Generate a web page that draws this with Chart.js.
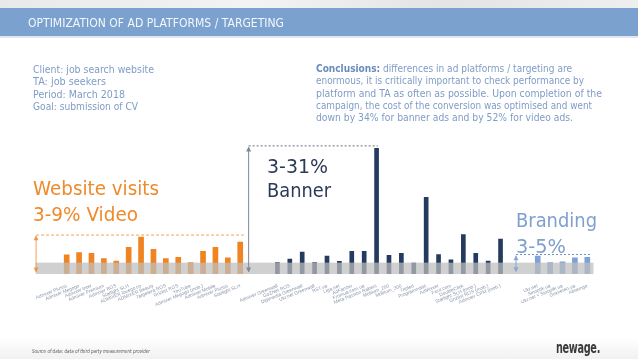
<!DOCTYPE html>
<html><head><meta charset="utf-8">
<script src="https://cdn.jsdelivr.net/npm/chart.js@4/dist/chart.umd.min.js"></script>
<style>
html,body{margin:0;padding:0;background:#fff;}
#wrap{position:relative;width:638px;height:359px;overflow:hidden;background:#fff;font-family:"DejaVu Sans",Verdana,sans-serif;}
#topstrip{position:absolute;left:0;top:0;width:638px;height:8px;background:linear-gradient(90deg,#e9e9e9,#f3f3f3 40%,#e4e4e4 70%,#efefef);}
#band{position:absolute;left:0;top:8px;width:638px;height:28px;background:#7ba1cf;}
#bandline{position:absolute;left:0;top:36px;width:638px;height:2px;background:#dfe6ee;}
#bottom{position:absolute;left:0;top:338px;width:638px;height:21px;background:linear-gradient(180deg,#fff,#f1f1f1);}
canvas{position:absolute;left:0;top:0;}
.t{position:absolute;white-space:nowrap;transform-origin:0 50%;line-height:1;}
</style></head>
<body><div id="wrap">
<div id="topstrip"></div><div id="band"></div><div id="bandline"></div><div id="bottom"></div>
<canvas id="c" width="638" height="359"></canvas>
<div class="t" data-w="256" style="left:28px;top:17px;font-size:12px;color:#f4f7fb;">OPTIMIZATION OF AD PLATFORMS / TARGETING</div>

<div class="t" data-w="121" style="left:33px;top:64px;font-size:10.5px;color:#7f9cc6;">Client: job search website</div>
<div class="t" data-w="73" style="left:33px;top:76px;font-size:10.5px;color:#7f9cc6;">TA: job seekers</div>
<div class="t" data-w="92" style="left:33px;top:88.5px;font-size:10.5px;color:#7f9cc6;">Period: March 2018</div>
<div class="t" data-w="105" style="left:33px;top:100.5px;font-size:10.5px;color:#7f9cc6;">Goal: submission of CV</div>

<div class="t" data-w="256" style="left:316px;top:63px;font-size:10.5px;color:#7f9cc6;"><b style="color:#6a8bbd">Conclusions:</b> differences in ad platforms / targeting are</div>
<div class="t" data-w="268" style="left:316px;top:75px;font-size:10.5px;color:#7f9cc6;">enormous, it is critically important to check performance by</div>
<div class="t" data-w="286" style="left:316px;top:87.5px;font-size:10.5px;color:#7f9cc6;">platform and TA as often as possible. Upon completion of the</div>
<div class="t" data-w="276" style="left:316px;top:99.5px;font-size:10.5px;color:#7f9cc6;">campaign, the cost of the conversion was optimised and went</div>
<div class="t" data-w="257" style="left:316px;top:111.5px;font-size:10.5px;color:#7f9cc6;">down by 34% for banner ads and by 52% for video ads.</div>

<div class="t" data-w="126" style="left:33px;top:178px;font-size:20px;color:#ef8a2a;">Website visits</div>
<div class="t" data-w="105" style="left:33px;top:204px;font-size:20px;color:#ef8a2a;">3-9% Video</div>
<div class="t" data-w="61" style="left:267px;top:156px;font-size:20px;color:#2c3b55;">3-31%</div>
<div class="t" data-w="64" style="left:267px;top:180px;font-size:20px;color:#2c3b55;">Banner</div>
<div class="t" data-w="81" style="left:516px;top:210px;font-size:20px;color:#7f9fcd;">Branding</div>
<div class="t" data-w="50" style="left:516px;top:236px;font-size:20px;color:#7f9fcd;">3-5%</div>

<div class="t" data-w="118" style="left:32px;top:349px;font-size:5.5px;font-style:italic;color:#555;">Source of data: data of third party measurement provider</div>
<div class="t" data-w="44" style="left:556px;top:341px;font-size:15px;font-weight:bold;color:#3a3a3a;letter-spacing:-0.5px;">newage.</div>
</div>
<script>
// ---- data ----
const videoLabels = ["Admixer Plusss","Admixer Megogo","Admixer Inter","Admixer Premium","Admixer ROS","Starlight SLH","ADMIXER lovego.co","ADMIXER Beauty","Targetera ROS","Grizlist ROS","YouTube","Admixer Megogo (mob.)","Admixer Mobile","Admixer Plusss","Starlight SLH"];
const videoValues = [4.7,5.3,5.1,3.8,3.2,6.6,9.1,6.1,3.8,4.1,2.8,5.6,6.6,4.0,7.9];
const bannerLabels = ["Admixer Greenwall","GoZNet ROS","Digimedia Greenwall","Ukr.net Greenwall","RST.ua","Liga.net","AdFarrow","Fromua.com.ua","Meta Passion Rabers","Mobium_200","Mobium_300","Tripled","Programmatic","AdMixxer","Fxcd.com","DoubleClick","Starlight SLH (mob.)","Grizlist ROS (mob.)","Admixer CPM (mob.)"];
const bannerValues = [2.8,3.7,5.4,2.8,4.4,3.1,5.6,5.6,31.0,4.6,5.1,2.7,18.9,4.8,3.5,9.7,5.1,3.2,8.6];
const brandingLabels = ["Ukr.net","Sinoptik.ua","Ukr.net + Sinoptik.ua","Gismeteo.ua","Allsemgo"];
const brandingValues = [4.4,2.8,3.0,4.0,4.1];
const bandLevel = 2.8;          // grey threshold band
const videoLine = 9.6;          // dashed range lines
const bannerLine = 31.6;
const brandingLine = 4.8;
const yMax = 33;

// ---- build categories (2 blank slots before / between groups) ----
const gap = ["",""];
const categories = [...gap, ...videoLabels, ...gap, ...bannerLabels, ...gap, ...brandingLabels];
const nul = n => Array(n).fill(null);
const videoData = [...nul(2), ...videoValues, ...nul(2+bannerValues.length+2+brandingValues.length)];
const bannerData = [...nul(2+videoValues.length+2), ...bannerValues, ...nul(2+brandingValues.length)];
const brandingData = [...nul(2+videoValues.length+2+bannerValues.length+2), ...brandingValues];
const iVideoEnd = 2+videoValues.length-1;
const iBannerStart = iVideoEnd+3;
const iBannerMax = iBannerStart + bannerValues.indexOf(Math.max(...bannerValues));
const iBrandStart = iBannerStart + bannerValues.length + 2;
const iLast = categories.length-1;

function arrow(ctx,x,y1,y2,color){
  ctx.save();ctx.strokeStyle=color;ctx.fillStyle=color;ctx.lineWidth=1;ctx.setLineDash([]);
  ctx.beginPath();ctx.moveTo(x,y1);ctx.lineTo(x,y2);ctx.stroke();
  ctx.beginPath();ctx.moveTo(x,y2-1);ctx.lineTo(x-2.5,y2+4);ctx.lineTo(x+2.5,y2+4);ctx.closePath();ctx.fill();
  ctx.beginPath();ctx.moveTo(x,y1+1);ctx.lineTo(x-2.5,y1-4);ctx.lineTo(x+2.5,y1-4);ctx.closePath();ctx.fill();
  ctx.restore();
}
function dashed(ctx,x1,x2,y,color,dash){
  ctx.save();ctx.strokeStyle=color;ctx.lineWidth=1;ctx.setLineDash(dash);
  ctx.beginPath();ctx.moveTo(x1,y);ctx.lineTo(x2,y);ctx.stroke();ctx.restore();
}
const overlay = {
  id:'overlay',
  afterDatasetsDraw(chart){
    const {ctx, chartArea:a, scales:{x,y}} = chart;
    const top = y.getPixelForValue(bandLevel);
    ctx.save();
    ctx.fillStyle='rgba(190,190,190,0.72)';
    ctx.fillRect(a.left, top, a.right-a.left, a.bottom-top);
    ctx.restore();
    // video
    const vx = x.getPixelForValue(-0.47);
    dashed(ctx, vx, x.getPixelForValue(iVideoEnd+0.3), y.getPixelForValue(videoLine), '#f2a45a', [3,2]);
    arrow(ctx, vx, y.getPixelForValue(0.6), y.getPixelForValue(videoLine-0.3), 'rgba(239,138,42,0.8)');
    // banner
    const bx = x.getPixelForValue(iVideoEnd+0.68);
    dashed(ctx, bx, x.getPixelForValue(iBannerMax+0.1), y.getPixelForValue(bannerLine), '#6b7280', [2,2]);
    arrow(ctx, bx, y.getPixelForValue(0.6), y.getPixelForValue(bannerLine-0.4), '#7d889b');
    // branding
    const rx = x.getPixelForValue(iBrandStart-1.75);
    dashed(ctx, rx, x.getPixelForValue(iLast+0.22), y.getPixelForValue(brandingLine), '#6f8fc2', [2,2]);
    arrow(ctx, rx, y.getPixelForValue(0.7), y.getPixelForValue(brandingLine-0.45), '#8aa6d3');
  }
};

new Chart(document.getElementById('c'), {
  type:'bar',
  data:{labels:categories, datasets:[
    {data:videoData, backgroundColor:'#ef8420', barThickness:5, grouped:false},
    {data:bannerData, backgroundColor:'#243a5e', barThickness:4, grouped:false},
    {data:brandingData, backgroundColor:'#7fa2d6', barThickness:5, grouped:false}
  ]},
  options:{
    responsive:false, animation:false, devicePixelRatio:1,
    layout:{padding:{left:35.7, right:44.5, top:140.2, bottom:25}},
    plugins:{legend:{display:false}, tooltip:{enabled:false}},
    scales:{
      x:{grid:{display:false}, border:{display:false},
         ticks:{autoSkip:false, minRotation:22, maxRotation:22, padding:1, color:'#8d98ab',
                font:{size:4.8, family:'"Liberation Sans", Arial, sans-serif'}},
         afterFit(s){ s.height = 60; }},
      y:{display:false, min:0, max:yMax}
    }
  },
  plugins:[overlay]
});

// fit text widths to the reference
document.querySelectorAll('.t').forEach(el=>{
  const w = el.getBoundingClientRect().width;
  const target = parseFloat(el.dataset.w);
  if (w>0) el.style.transform = 'scaleX(' + (target/w) + ')';
});
</script>
</body></html>
